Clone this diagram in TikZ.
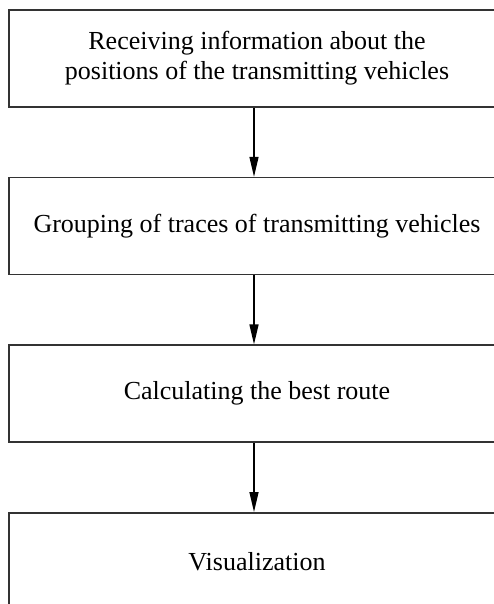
\documentclass[tikz,border=0pt]{standalone}
\usepackage{fontspec}
\setmainfont{Liberation Serif}
\usetikzlibrary{arrows.meta,positioning}

\begin{document}
\begin{tikzpicture}
  [x=1pt,y=1pt,node distance=69pt,>={Triangle[length=20pt,width=9pt]},
   stage/.style={rectangle,draw=black!80,line width=1.6pt,fill=white,
     minimum width=496pt,minimum height=97pt,align=center,
     font=\fontsize{26}{30}\selectfont},
   flow/.style={->,draw=black,line width=1.4pt}]

  \clip (0,0) rectangle (494,-604);
  \useasboundingbox (0,0) rectangle (494,-604);

  % stages
  \node [stage] (receive) at (257,-58.5)
    {Receiving information about the\\positions of the transmitting vehicles};
  \node [stage] (group) [below=of receive] {Grouping of traces of transmitting vehicles};
  \node [stage] (route) [below=of group]   {Calculating the best route};
  \node [stage] (visual) [below=of route]  {Visualization};

  \draw [flow] ([xshift=-3pt]receive.south) -- ([xshift=-3pt]group.north);
  \draw [flow] ([xshift=-3pt]group.south)   -- ([xshift=-3pt]route.north);
  \draw [flow] ([xshift=-3pt]route.south)   -- ([xshift=-3pt]visual.north);

\end{tikzpicture}
\end{document}
